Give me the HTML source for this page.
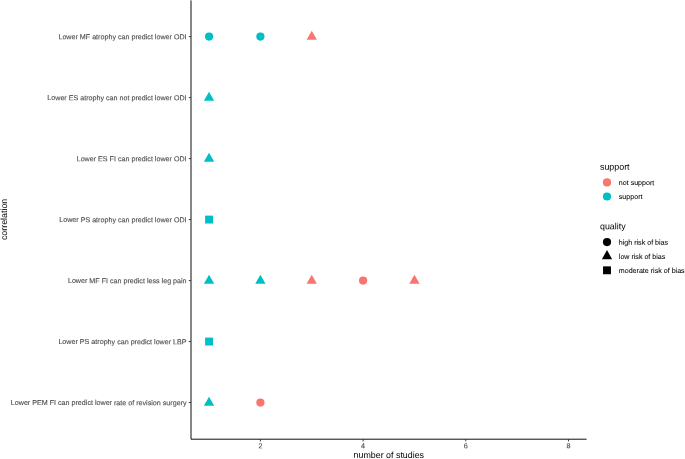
<!DOCTYPE html>
<html><head><meta charset="utf-8"><style>
html,body{margin:0;padding:0;background:#fff;}
svg{display:block;will-change:transform;font-family:"Liberation Sans",sans-serif;}
</style></head><body>
<svg width="685" height="459" viewBox="0 0 685 459">
<rect width="685" height="459" fill="#fff"/>
<path d="M191.0 0.4 V439.2 H586.6" fill="none" stroke="#000" stroke-width="0.95" stroke-linejoin="round"/>
<line x1="188.80" y1="36.60" x2="191.00" y2="36.60" stroke="#333" stroke-width="0.95"/>
<line x1="188.80" y1="97.59" x2="191.00" y2="97.59" stroke="#333" stroke-width="0.95"/>
<line x1="188.80" y1="158.58" x2="191.00" y2="158.58" stroke="#333" stroke-width="0.95"/>
<line x1="188.80" y1="219.57" x2="191.00" y2="219.57" stroke="#333" stroke-width="0.95"/>
<line x1="188.80" y1="280.56" x2="191.00" y2="280.56" stroke="#333" stroke-width="0.95"/>
<line x1="188.80" y1="341.55" x2="191.00" y2="341.55" stroke="#333" stroke-width="0.95"/>
<line x1="188.80" y1="402.54" x2="191.00" y2="402.54" stroke="#333" stroke-width="0.95"/>
<line x1="260.40" y1="439.20" x2="260.40" y2="441.40" stroke="#333" stroke-width="0.95"/>
<line x1="363.10" y1="439.20" x2="363.10" y2="441.40" stroke="#333" stroke-width="0.95"/>
<line x1="465.80" y1="439.20" x2="465.80" y2="441.40" stroke="#333" stroke-width="0.95"/>
<line x1="568.50" y1="439.20" x2="568.50" y2="441.40" stroke="#333" stroke-width="0.95"/>
<text transform="translate(186.60 39.25) rotate(0.05)" font-size="7.15" fill="#4D4D4D" text-anchor="end" stroke="#4D4D4D" stroke-width="0.12">Lower MF atrophy can predict lower ODI</text>
<text transform="translate(186.60 100.24) rotate(0.05)" font-size="7.15" fill="#4D4D4D" text-anchor="end" stroke="#4D4D4D" stroke-width="0.12">Lower ES atrophy can not predict lower ODI</text>
<text transform="translate(186.60 161.23) rotate(0.05)" font-size="7.15" fill="#4D4D4D" text-anchor="end" stroke="#4D4D4D" stroke-width="0.12">Lower ES FI can predict lower ODI</text>
<text transform="translate(186.60 222.22) rotate(0.05)" font-size="7.15" fill="#4D4D4D" text-anchor="end" stroke="#4D4D4D" stroke-width="0.12">Lower PS atrophy can predict lower ODI</text>
<text transform="translate(186.60 283.21) rotate(0.05)" font-size="7.15" fill="#4D4D4D" text-anchor="end" stroke="#4D4D4D" stroke-width="0.12">Lower MF FI can predict less leg pain</text>
<text transform="translate(186.60 344.20) rotate(0.05)" font-size="7.15" fill="#4D4D4D" text-anchor="end" stroke="#4D4D4D" stroke-width="0.12">Lower PS atrophy can predict lower LBP</text>
<text transform="translate(186.60 405.19) rotate(0.05)" font-size="7.15" fill="#4D4D4D" text-anchor="end" stroke="#4D4D4D" stroke-width="0.12">Lower PEM FI can predict lower rate of revision surgery</text>
<text transform="translate(260.40 448.30) rotate(0.05)" font-size="7.15" fill="#4D4D4D" text-anchor="middle" stroke="#4D4D4D" stroke-width="0.12">2</text>
<text transform="translate(363.10 448.30) rotate(0.05)" font-size="7.15" fill="#4D4D4D" text-anchor="middle" stroke="#4D4D4D" stroke-width="0.12">4</text>
<text transform="translate(465.80 448.30) rotate(0.05)" font-size="7.15" fill="#4D4D4D" text-anchor="middle" stroke="#4D4D4D" stroke-width="0.12">6</text>
<text transform="translate(568.50 448.30) rotate(0.05)" font-size="7.15" fill="#4D4D4D" text-anchor="middle" stroke="#4D4D4D" stroke-width="0.12">8</text>
<text transform="translate(388.80 457.90) rotate(0.05)" font-size="8.87" fill="#000" text-anchor="middle">number of studies</text>
<text transform="translate(7.00 219.40) rotate(-90) rotate(0.05)" font-size="8.87" fill="#000" text-anchor="middle">correlation</text>
<circle cx="209.05" cy="36.60" r="4.1" fill="#00BFC4"/>
<circle cx="260.40" cy="36.60" r="4.1" fill="#00BFC4"/>
<polygon points="311.75,30.70 316.90,39.80 306.60,39.80" fill="#F8766D"/>
<polygon points="209.05,91.69 214.20,100.79 203.90,100.79" fill="#00BFC4"/>
<polygon points="209.05,152.68 214.20,161.78 203.90,161.78" fill="#00BFC4"/>
<rect x="205.10" y="215.62" width="7.90" height="7.90" fill="#00BFC4"/>
<polygon points="209.05,274.66 214.20,283.76 203.90,283.76" fill="#00BFC4"/>
<polygon points="260.40,274.66 265.55,283.76 255.25,283.76" fill="#00BFC4"/>
<polygon points="311.75,274.66 316.90,283.76 306.60,283.76" fill="#F8766D"/>
<circle cx="363.10" cy="280.56" r="4.1" fill="#F8766D"/>
<polygon points="414.45,274.66 419.60,283.76 409.30,283.76" fill="#F8766D"/>
<rect x="205.10" y="337.60" width="7.90" height="7.90" fill="#00BFC4"/>
<polygon points="209.05,396.64 214.20,405.74 203.90,405.74" fill="#00BFC4"/>
<circle cx="260.40" cy="402.54" r="4.1" fill="#F8766D"/>
<text transform="translate(600.00 169.80) rotate(0.05)" font-size="8.87" fill="#000">support</text>
<circle cx="607.00" cy="182.40" r="4.1" fill="#F8766D"/>
<circle cx="607.00" cy="196.50" r="4.1" fill="#00BFC4"/>
<text transform="translate(618.80 185.10) rotate(0.05)" font-size="7.1" fill="#000" stroke="#000" stroke-width="0.06">not support</text>
<text transform="translate(618.80 199.10) rotate(0.05)" font-size="7.1" fill="#000" stroke="#000" stroke-width="0.06">support</text>
<text transform="translate(600.00 229.20) rotate(0.05)" font-size="8.87" fill="#000">quality</text>
<circle cx="607.00" cy="242.10" r="4.1" fill="#000"/>
<polygon points="607.00,250.10 612.15,259.20 601.85,259.20" fill="#000"/>
<rect x="603.05" y="266.35" width="7.90" height="7.90" fill="#000"/>
<text transform="translate(618.80 244.80) rotate(0.05)" font-size="7.1" fill="#000" stroke="#000" stroke-width="0.06">high risk of bias</text>
<text transform="translate(618.80 258.90) rotate(0.05)" font-size="7.1" fill="#000" stroke="#000" stroke-width="0.06">low risk of bias</text>
<text transform="translate(618.80 273.00) rotate(0.05)" font-size="7.1" fill="#000" stroke="#000" stroke-width="0.06">moderate risk of bias</text>
</svg></body></html>
